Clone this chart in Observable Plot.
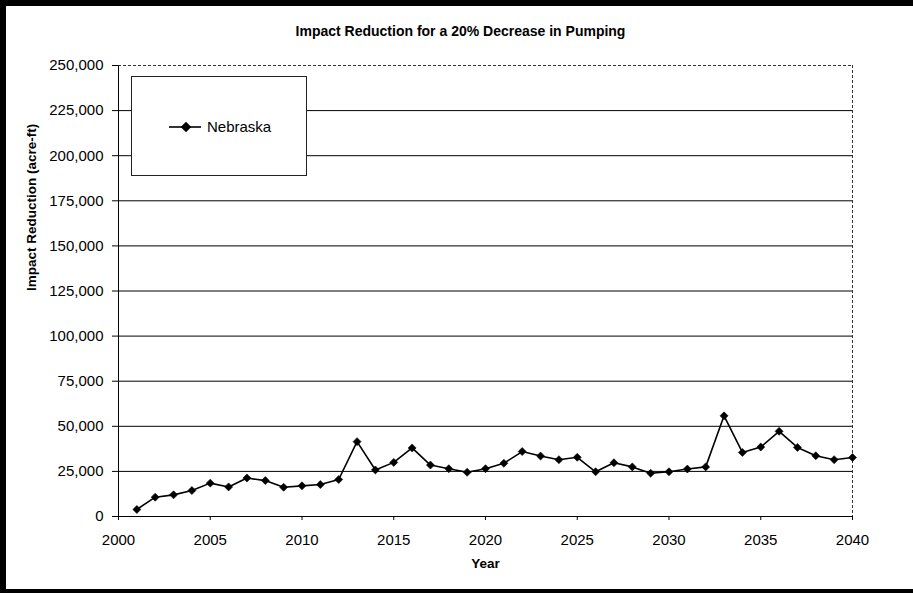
<!DOCTYPE html>
<html>
<head>
<meta charset="utf-8">
<script src="https://cdn.jsdelivr.net/npm/d3@7"></script>
<script src="https://cdn.jsdelivr.net/npm/@observablehq/plot@0.6"></script>
<style>
  html, body { margin: 0; padding: 0; background: #fff; }
  #chart { position: relative; width: 913px; height: 593px; overflow: hidden; font-family: "Liberation Sans", Arial, sans-serif; }
  #chart svg.plot { position: absolute; left: 0; top: 0; }
  .title { position: absolute; left: 0; top: 23px; width: 921px; text-align: center; font-weight: bold; font-size: 14px; line-height: 16px; color: #000; }
  .legend { position: absolute; left: 131px; top: 76px; width: 176px; height: 100px; box-sizing: border-box; border: 1px solid #222; background: #fff; }
  .legend svg { position: absolute; left: 0; top: 0; }
  .edge { position: absolute; background: #000; }
</style>
</head>
<body>
<div id="chart">
  <div class="title">Impact Reduction for a 20% Decrease in Pumping</div>
</div>
<script>
// Annual impact reduction (acre-ft) for Nebraska, 2001–2040
const years = [
  2001, 2002, 2003, 2004, 2005, 2006, 2007, 2008, 2009, 2010,
  2011, 2012, 2013, 2014, 2015, 2016, 2017, 2018, 2019, 2020,
  2021, 2022, 2023, 2024, 2025, 2026, 2027, 2028, 2029, 2030,
  2031, 2032, 2033, 2034, 2035, 2036, 2037, 2038, 2039, 2040
];
const nebraska = [
  3900, 10700, 12000, 14400, 18500, 16400, 21300, 19900, 16200, 17000,
  17700, 20500, 41500, 25800, 30000, 38000, 28500, 26500, 24500, 26500,
  29500, 36000, 33500, 31500, 32800, 24800, 29800, 27500, 24000, 24800,
  26300, 27500, 55800, 35500, 38500, 47200, 38300, 33700, 31500, 32700
];
const seriesName = "Nebraska";
const xTicks = [2000, 2005, 2010, 2015, 2020, 2025, 2030, 2035, 2040];
const yTicks = [0, 25000, 50000, 75000, 100000, 125000, 150000, 175000, 200000, 225000, 250000];

const rows = years.map((year, i) => ({year, value: nebraska[i]}));
const innerGrid = yTicks.slice(1, -1);

const plot = Plot.plot({
  width: 913,
  height: 593,
  marginLeft: 118,
  marginRight: 61,
  marginTop: 65,
  marginBottom: 77,
  style: {fontFamily: "'Liberation Sans', Arial, sans-serif", fontSize: "15px", color: "#000", background: "transparent", overflow: "visible"},
  x: {domain: [2000, 2040]},
  y: {domain: [0, 250000]},
  marks: [
    Plot.ruleY(innerGrid, {stroke: "#000", strokeWidth: 1}),
    Plot.ruleY([yTicks[yTicks.length - 1]], {stroke: "#333", strokeWidth: 1, strokeDasharray: "3,2"}),
    Plot.ruleX([xTicks[xTicks.length - 1]], {stroke: "#333", strokeWidth: 1, strokeDasharray: "3,2"}),
    Plot.ruleX([xTicks[0]], {stroke: "#000", strokeWidth: 1}),
    Plot.ruleY([0], {stroke: "#000", strokeWidth: 1}),
    Plot.axisY({ticks: yTicks, tickFormat: d3.format(","), tickSize: 6, tickPadding: 9, label: null, fontSize: 15}),
    Plot.axisX({ticks: xTicks, tickFormat: "d", tickSize: 4, tickPadding: 14, label: null, fontSize: 15}),
    Plot.lineY(rows, {x: "year", y: "value", stroke: "#000", strokeWidth: 1.6}),
    Plot.dot(rows, {x: "year", y: "value", symbol: "diamond2", r: 3.6, fill: "#000", stroke: "#000", strokeWidth: 0.6}),
    Plot.text(["Impact Reduction (acre-ft)"], {frameAnchor: "left", dx: -87, rotate: -90, fontWeight: "bold", fontSize: 13.5}),
    Plot.text(["Year"], {frameAnchor: "bottom", dy: 51, fontWeight: "bold", fontSize: 13.5})
  ]
});
plot.classList.add("plot");
const chart = document.getElementById("chart");
chart.appendChild(plot);

// Legend box
const legend = document.createElement("div");
legend.className = "legend";
const ns = "http://www.w3.org/2000/svg";
const lsvg = document.createElementNS(ns, "svg");
lsvg.setAttribute("width", 176);
lsvg.setAttribute("height", 100);
const ln = document.createElementNS(ns, "line");
ln.setAttribute("x1", 37); ln.setAttribute("x2", 69);
ln.setAttribute("y1", 50); ln.setAttribute("y2", 50);
ln.setAttribute("stroke", "#000"); ln.setAttribute("stroke-width", 1.6);
lsvg.appendChild(ln);
const dm = document.createElementNS(ns, "path");
dm.setAttribute("d", d3.symbol(d3.symbolDiamond2, 2 * 4.2 * 4.2 * 2)());
dm.setAttribute("transform", "translate(54,50)");
dm.setAttribute("fill", "#000");
lsvg.appendChild(dm);
const lt = document.createElementNS(ns, "text");
lt.setAttribute("x", 75); lt.setAttribute("y", 50);
lt.setAttribute("dy", "0.35em");
lt.setAttribute("font-size", 15);
lt.setAttribute("font-family", "'Liberation Sans', Arial, sans-serif");
lt.textContent = seriesName;
lsvg.appendChild(lt);
legend.appendChild(lsvg);
chart.appendChild(legend);

// Dark page edges
[["0px", "0px", "913px", "6px"], ["0px", "0px", "6px", "593px"], ["0px", "589px", "913px", "4px"]].forEach(([l, t, w, h]) => {
  const e = document.createElement("div");
  e.className = "edge";
  Object.assign(e.style, {left: l, top: t, width: w, height: h});
  chart.appendChild(e);
});
</script>
</body>
</html>
